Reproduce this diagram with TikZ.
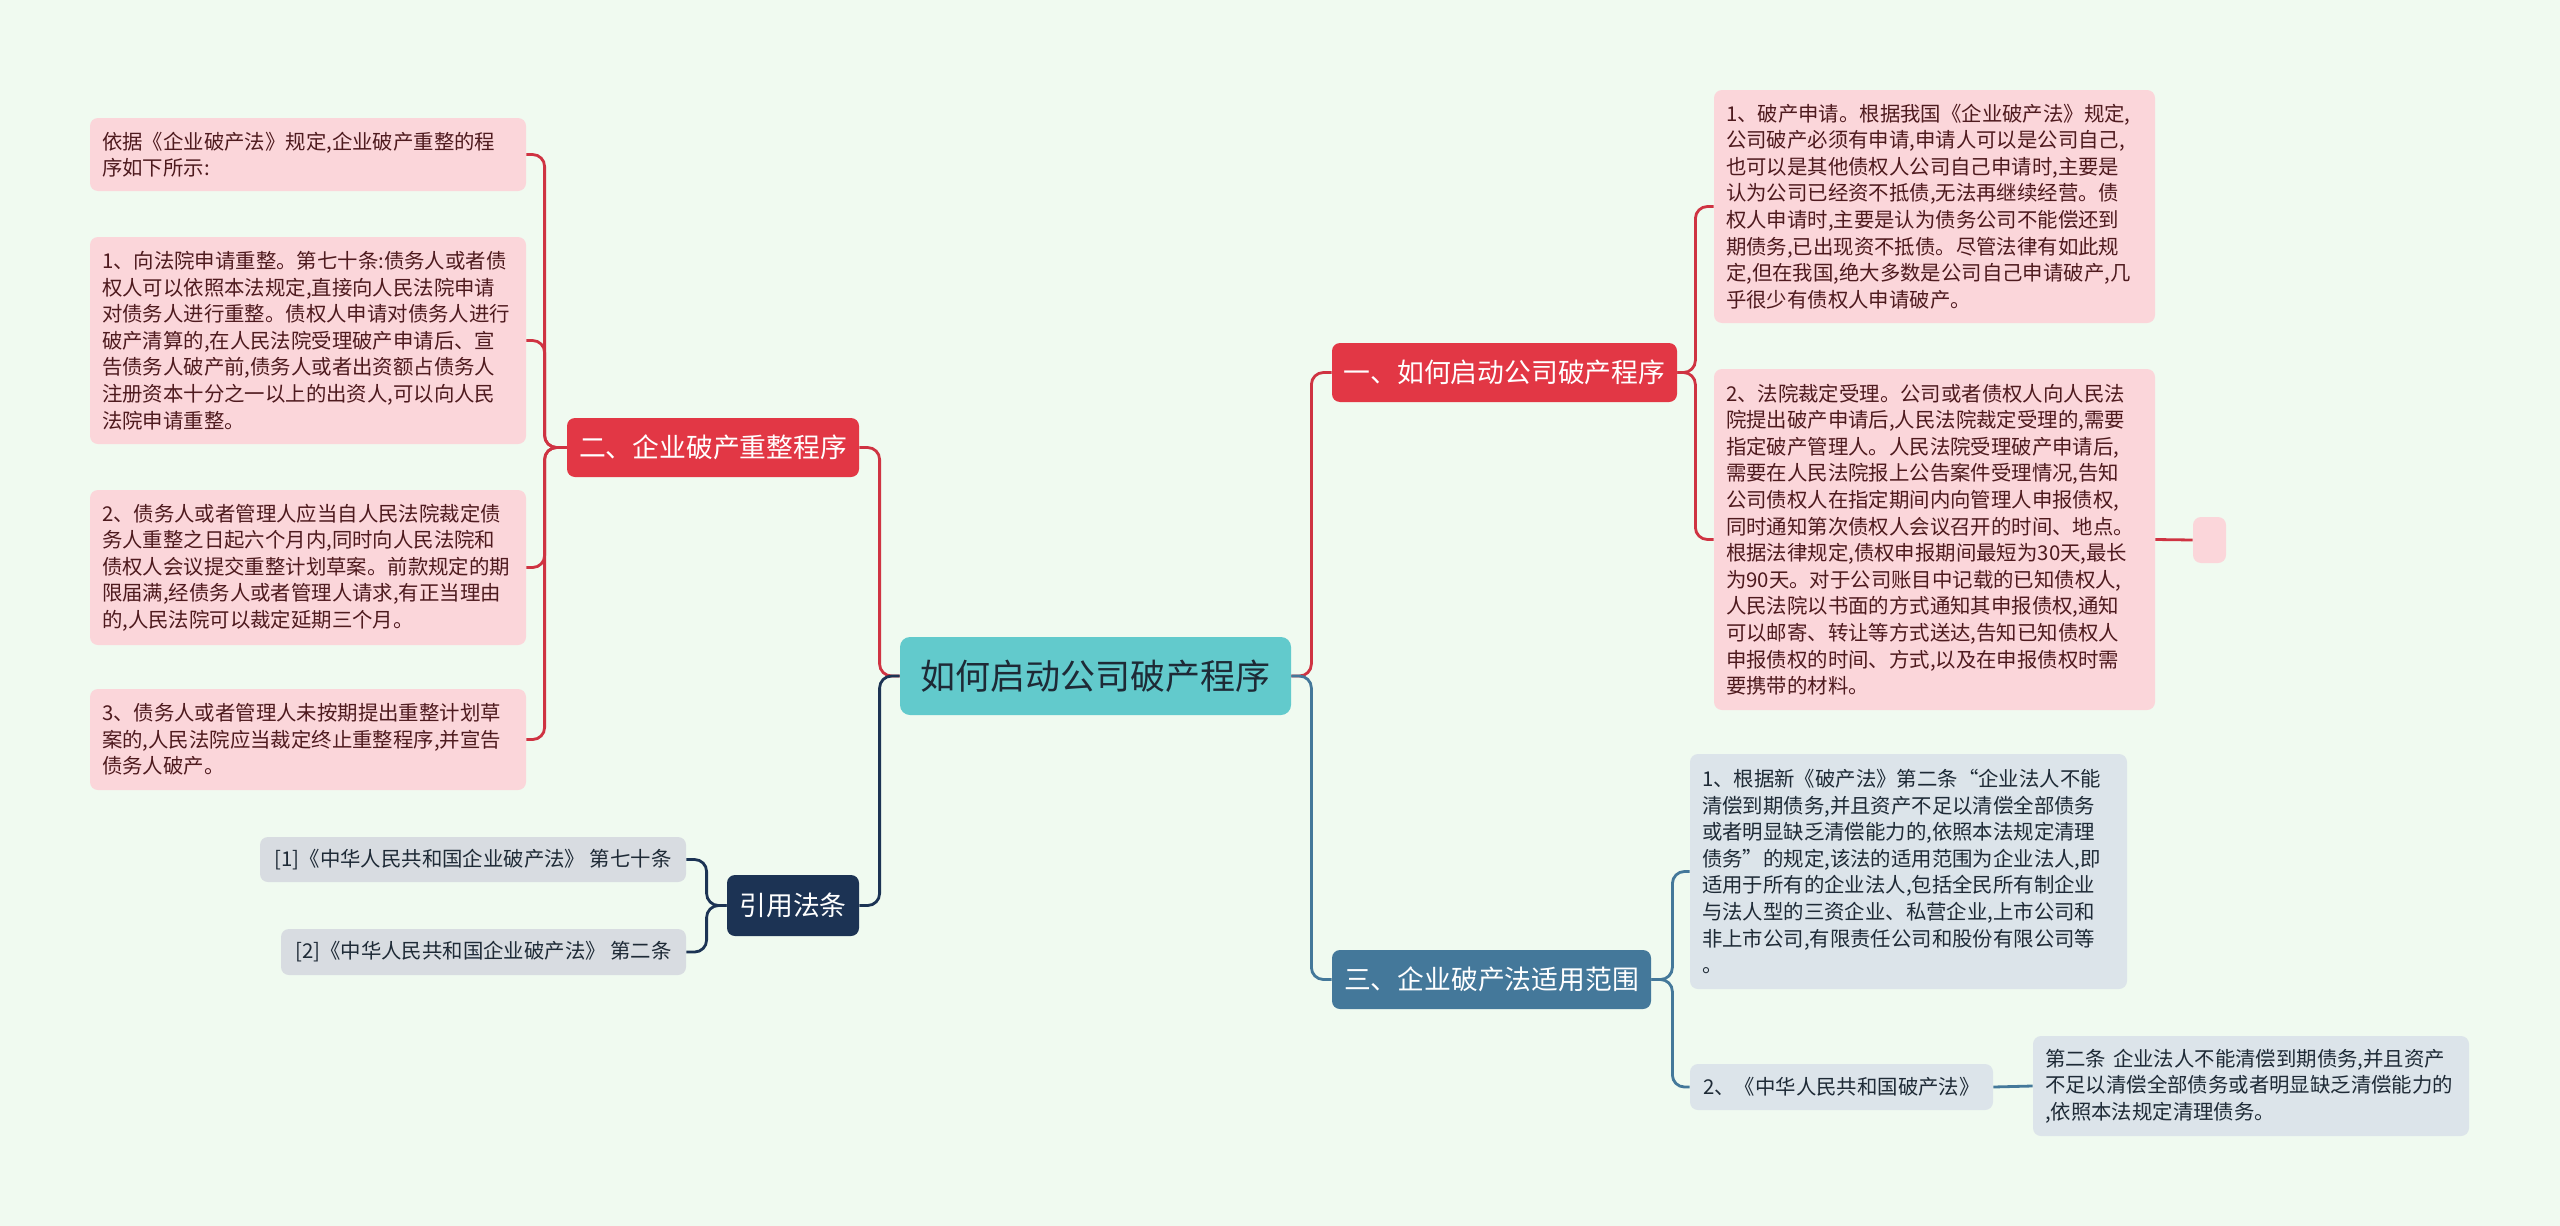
\documentclass[tikz,border=0pt]{standalone}
\usepackage{fontspec}
\newfontfamily\cjk{Noto Sans CJK SC}
\usetikzlibrary{positioning}
\definecolor{bgmint}{HTML}{F0FAF0}
\definecolor{rootteal}{HTML}{62CACC}
\definecolor{redmain}{HTML}{E23745}
\definecolor{redwire}{HTML}{CF3342}
\definecolor{pinkfill}{HTML}{FBD6DA}
\definecolor{pinktext}{HTML}{4E1A1E}
\definecolor{bluemain}{HTML}{44789A}
\definecolor{bluewire}{HTML}{44789A}
\definecolor{bluefill}{HTML}{DCE4EA}
\definecolor{bluetext}{HTML}{1E2A36}
\definecolor{navymain}{HTML}{1C3354}
\definecolor{citefill}{HTML}{D8DCE1}
\tikzset{
  basebox/.style={rounded corners=4pt, inner xsep=6pt, inner ysep=3pt,
    font=\cjk\fontsize{10.2}{13.3}\selectfont},
  pinkbox/.style={basebox, fill=pinkfill, text=pinktext, align=left},
  bluebox/.style={basebox, fill=bluefill, text=bluetext, align=left},
  citebox/.style={basebox, fill=citefill, text=bluetext},
  mainbox/.style={rounded corners=4pt, text=white, inner sep=0pt,
    font=\cjk\fontsize{13.4}{16}\selectfont},
  rootbox/.style={rounded corners=5pt, fill=rootteal, text=bluetext, inner sep=0pt,
    minimum width=195.5pt, minimum height=39pt,
    font=\cjk\fontsize{17.5}{20}\selectfont},
  wire/.style={line width=1.4pt, rounded corners=6pt}
}
\begin{document}
\begin{tikzpicture}[x=0.5pt, y=-0.5pt]
  \useasboundingbox (0,0) rectangle (2560,1226);
  \fill[bgmint] (0,0) rectangle (2560,1226);

  % centre and main branches
  \node[rootbox] (root) at (1095.5,676) {如何启动公司破产程序};
  \node[mainbox, fill=redmain, minimum width=172.5pt, minimum height=29.5pt] (start) at (1504.5,372.5) {一、如何启动公司破产程序};
  \node[mainbox, fill=redmain, minimum width=146pt, minimum height=29.5pt] (reorg) at (713,447.5) {二、企业破产重整程序};
  \node[mainbox, fill=navymain, minimum width=66pt, minimum height=30.5pt] (cite) at (793,905.5) {引用法条};
  \node[mainbox, fill=bluemain, minimum width=159.5pt, minimum height=29.5pt] (scope) at (1491.5,979.5) {三、企业破产法适用范围};

  % left leaves
  \node[pinkbox, text width=206pt, minimum height=36.5pt] (rg0) at (308,154.5) {依据《企业破产法》规定,企业破产重整的程\\序如下所示:};
  \node[pinkbox, text width=206pt, minimum height=103.5pt] (rg1) at (308,340.5) {1、向法院申请重整。第七十条:债务人或者债\\权人可以依照本法规定,直接向人民法院申请\\对债务人进行重整。债权人申请对债务人进行\\破产清算的,在人民法院受理破产申请后、宣\\告债务人破产前,债务人或者出资额占债务人\\注册资本十分之一以上的出资人,可以向人民\\法院申请重整。};
  \node[pinkbox, text width=206pt, minimum height=77.5pt] (rg2) at (308,567.5) {2、债务人或者管理人应当自人民法院裁定债\\务人重整之日起六个月内,同时向人民法院和\\债权人会议提交重整计划草案。前款规定的期\\限届满,经债务人或者管理人请求,有正当理由\\的,人民法院可以裁定延期三个月。};
  \node[pinkbox, text width=206pt, minimum height=50.5pt] (rg3) at (308,739.5) {3、债务人或者管理人未按期提出重整计划草\\案的,人民法院应当裁定终止重整程序,并宣告\\债务人破产。};

  \node[citebox, minimum width=213pt, minimum height=22.5pt] (ct1) at (473,859.5) {[1]《中华人民共和国企业破产法》 第七十条};
  \node[citebox, minimum width=202.5pt, minimum height=23pt] (ct2) at (483.5,952) {[2]《中华人民共和国企业破产法》 第二条};

  % right leaves
  \node[pinkbox, text width=208.5pt, minimum height=116.5pt] (st1) at (1934.5,206.5) {1、破产申请。根据我国《企业破产法》规定,\\公司破产必须有申请,申请人可以是公司自己,\\也可以是其他债权人公司自己申请时,主要是\\认为公司已经资不抵债,无法再继续经营。债\\权人申请时,主要是认为债务公司不能偿还到\\期债务,已出现资不抵债。尽管法律有如此规\\定,但在我国,绝大多数是公司自己申请破产,几\\乎很少有债权人申请破产。};
  \node[pinkbox, text width=208.5pt, minimum height=170.5pt] (st2) at (1934.5,539.5) {2、法院裁定受理。公司或者债权人向人民法\\院提出破产申请后,人民法院裁定受理的,需要\\指定破产管理人。人民法院受理破产申请后,\\需要在人民法院报上公告案件受理情况,告知\\公司债权人在指定期间内向管理人申报债权,\\同时通知第次债权人会议召开的时间、地点。\\根据法律规定,债权申报期间最短为30天,最长\\为90天。对于公司账目中记载的已知债权人,\\人民法院以书面的方式通知其申报债权,通知\\可以邮寄、转让等方式送达,告知已知债权人\\申报债权的时间、方式,以及在申报债权时需\\要携带的材料。};
  \node[basebox, fill=pinkfill, minimum width=16.5pt, minimum height=23pt, inner sep=0pt] (st2e) at (2209.5,540) {};

  \node[bluebox, text width=206.5pt, minimum height=117.5pt] (sc1) at (1908.5,871.5) {1、根据新《破产法》第二条“企业法人不能\\清偿到期债务,并且资产不足以清偿全部债务\\或者明显缺乏清偿能力的,依照本法规定清理\\债务”的规定,该法的适用范围为企业法人,即\\适用于所有的企业法人,包括全民所有制企业\\与法人型的三资企业、私营企业,上市公司和\\非上市公司,有限责任公司和股份有限公司等\\。};
  \node[bluebox, align=center, minimum width=151.5pt, minimum height=23pt] (sc2) at (1841.5,1087) {2、《中华人民共和国破产法》};
  \node[bluebox, text width=206pt, minimum height=50pt] (sc2t) at (2251,1086) {第二条 企业法人不能清偿到期债务,并且资产\\不足以清偿全部债务或者明显缺乏清偿能力的\\,依照本法规定清理债务。};

  % connectors
  \draw[wire, redwire] (root.east) -- ++(20,0) |- (start.west);
  \draw[wire, bluewire] (root.east) -- ++(20,0) |- (scope.west);
  \draw[wire, redwire] (root.west) -- ++(-20,0) |- (reorg.east);
  \draw[wire, navymain] (root.west) -- ++(-20,0) |- (cite.east);
  \foreach \leaf in {st1,st2}
    \draw[wire, redwire] (start.east) -- ++(18,0) |- (\leaf.west);
  \draw[wire, redwire] (st2.east) -- (st2e.west);
  \foreach \leaf in {rg0,rg1,rg2,rg3}
    \draw[wire, redwire] (reorg.west) -- ++(-22,0) |- (\leaf.east);
  \foreach \leaf in {ct1,ct2}
    \draw[wire, navymain] (cite.west) -- ++(-20,0) |- (\leaf.east);
  \foreach \leaf in {sc1,sc2}
    \draw[wire, bluewire] (scope.east) -- ++(21,0) |- (\leaf.west);
  \draw[wire, bluewire] (sc2.east) -- (sc2t.west);
\end{tikzpicture}
\end{document}
